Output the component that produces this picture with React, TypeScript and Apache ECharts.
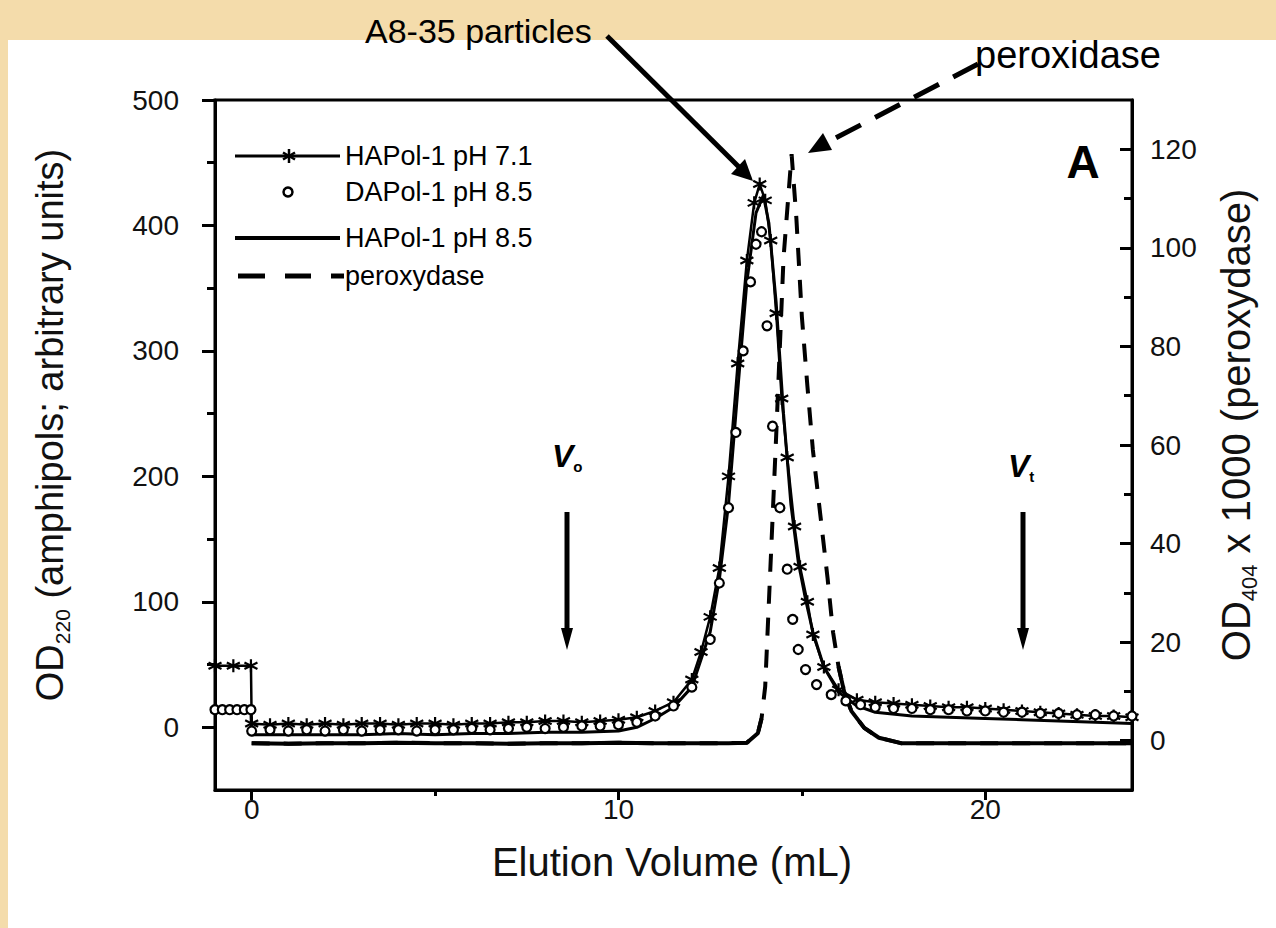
import React, { useEffect, useRef } from "react";
import * as echarts from "echarts";

// ---- data (x = elution volume, mL) ----
const hapol71X = [-1, -0.5, -0.02, 0, 0.5, 1, 1.5, 2, 2.5, 3, 3.5, 4, 4.5, 5, 5.5, 6, 6.5, 7, 7.5, 8, 8.5, 9, 9.5, 10, 10.5, 11, 11.5, 12, 12.25, 12.5, 12.75, 13, 13.25, 13.5, 13.7, 13.85, 14, 14.15, 14.3, 14.45, 14.6, 14.8, 14.95, 15.15, 15.3, 15.6, 16, 16.5, 17, 17.5, 18, 18.5, 19, 19.5, 20, 20.5, 21, 21.5, 22, 22.5, 23, 23.5, 24];
const hapol71Y = [49, 49, 49, 3, 2, 3, 2, 3, 2, 3, 3, 2, 3, 3, 2, 3, 3, 4, 4, 5, 5, 4, 5, 6, 8, 13, 20, 38, 60, 88, 127, 200, 290, 372, 418, 433, 420, 388, 330, 262, 215, 160, 128, 100, 74, 48, 30, 22, 20, 19, 18, 17, 16, 16, 15, 14, 13, 12, 11, 10, 9, 9, 8];

const dapolX = [-1, -0.8, -0.6, -0.4, -0.2, -0.02, 0, 0.5, 1, 1.5, 2, 2.5, 3, 3.5, 4, 4.5, 5, 5.5, 6, 6.5, 7, 7.5, 8, 8.5, 9, 9.5, 10, 10.5, 11, 11.5, 12, 12.5, 12.75, 13, 13.2, 13.4, 13.6, 13.75, 13.9, 14.05, 14.2, 14.4, 14.6, 14.75, 14.9, 15.1, 15.4, 15.8, 16.2, 16.6, 17, 17.5, 18, 18.5, 19, 19.5, 20, 20.5, 21, 21.5, 22, 22.5, 23, 23.5, 24];
const dapolY = [14, 14, 14, 14, 14, 14, -3, -2, -3, -2, -3, -2, -3, -2, -2, -3, -2, -2, -1, -2, -1, 0, -1, 0, 1, 1, 2, 4, 9, 17, 32, 70, 115, 175, 235, 300, 355, 385, 395, 320, 240, 175, 126, 86, 62, 46, 34, 26, 21, 18, 16, 15, 15, 14, 14, 13, 13, 12, 12, 11, 11, 10, 10, 9, 9];

const hapol85X = [-1, -0.02, 0, 1, 2, 3, 4, 5, 6, 7, 8, 9, 10, 10.5, 11, 11.5, 12, 12.5, 12.75, 13, 13.25, 13.5, 13.75, 13.95, 14.1, 14.3, 14.5, 14.7, 14.9, 15.1, 15.3, 15.6, 16, 16.5, 17, 18, 19, 20, 21, 22, 23, 24];
const hapol85Y = [12, 12, -6, -6, -6, -6, -5, -6, -5, -5, -4, -4, -3, 0, 7, 16, 32, 76, 118, 178, 268, 355, 410, 424, 402, 338, 250, 178, 132, 102, 76, 48, 28, 17, 12, 9, 8, 7, 6, 5, 4, 3];

const peroxX = [0, 1, 2, 3, 4, 5, 6, 7, 8, 9, 10, 11, 12, 13, 13.5, 13.8, 13.9, 14.0, 14.1, 14.3, 14.5, 14.72, 14.85, 15.0, 15.15, 15.3, 15.5, 15.7, 15.85, 16.0, 16.15, 16.35, 16.7, 17.1, 17.7, 18, 19, 20, 21, 22, 23, 24];
const peroxY = [-0.5, -0.6, -0.5, -0.5, -0.4, -0.5, -0.5, -0.6, -0.5, -0.5, -0.4, -0.5, -0.5, -0.5, -0.4, 1.5, 4.5, 11, 28, 62, 98, 119, 106, 86, 72, 59, 46, 33, 22, 15, 10, 6, 2.6, 0.6, -0.5, -0.5, -0.5, -0.5, -0.5, -0.5, -0.5, -0.5];

const xTickLabels = [0, 10, 20];
const xMinorTicks = [5, 15];
const leftTickLabels = [0, 100, 200, 300, 400, 500];
const leftMinorTicks = [50, 150, 250, 350, 450];
const rightTickLabels = [0, 20, 40, 60, 80, 100, 120];
const rightMinorTicks = [10, 30, 50, 70, 90, 110];

const legendNames = ["HAPol-1 pH 7.1", "DAPol-1 pH 8.5", "HAPol-1 pH 8.5", "peroxydase"];

const FONT = "'Liberation Sans', Arial, Helvetica, sans-serif";
const STAR = "path://M0,-10L0,10M-8.66,-5L8.66,5M-8.66,5L8.66,-5";

const zip = (xs: number[], ys: number[]) => xs.map((x, i) => [x, ys[i]]);

function buildOption() {
  const perSolid = peroxX.map((x, i) => (x <= 13.9 || x >= 16.0 ? [x, peroxY[i]] : [x, null]));
  const axisLine = { show: true, onZero: false, lineStyle: { color: "#000", width: 3 } };
  const tickLabel = { fontSize: 28, color: "#111", fontFamily: FONT };
  const TAN = "#f4dcab";

  const legendRows = [156, 192, 238, 276];
  const graphic: any[] = [
    { type: "rect", shape: { x: 0, y: 0, width: 1276, height: 40 }, style: { fill: TAN }, silent: true },
    { type: "rect", shape: { x: 0, y: 0, width: 8, height: 928 }, style: { fill: TAN }, silent: true },
    // legend
    { type: "line", shape: { x1: 235, y1: legendRows[0], x2: 340, y2: legendRows[0] }, style: { stroke: "#000", lineWidth: 3 } },
    { type: "line", shape: { x1: 289, y1: legendRows[0] - 7, x2: 289, y2: legendRows[0] + 7 }, style: { stroke: "#000", lineWidth: 2.5 } },
    { type: "line", shape: { x1: 283, y1: legendRows[0] - 3.5, x2: 295, y2: legendRows[0] + 3.5 }, style: { stroke: "#000", lineWidth: 2.5 } },
    { type: "line", shape: { x1: 283, y1: legendRows[0] + 3.5, x2: 295, y2: legendRows[0] - 3.5 }, style: { stroke: "#000", lineWidth: 2.5 } },
    { type: "circle", shape: { cx: 288, cy: legendRows[1], r: 4.5 }, style: { fill: "#fff", stroke: "#000", lineWidth: 2.5 } },
    { type: "line", shape: { x1: 235, y1: legendRows[2], x2: 340, y2: legendRows[2] }, style: { stroke: "#000", lineWidth: 4 } },
    { type: "line", shape: { x1: 238, y1: legendRows[3], x2: 265, y2: legendRows[3] }, style: { stroke: "#000", lineWidth: 5 } },
    { type: "line", shape: { x1: 285, y1: legendRows[3], x2: 311, y2: legendRows[3] }, style: { stroke: "#000", lineWidth: 5 } },
    { type: "line", shape: { x1: 331, y1: legendRows[3], x2: 344, y2: legendRows[3] }, style: { stroke: "#000", lineWidth: 5 } },
    ...legendNames.map((t, i) => ({
      type: "text",
      x: 345,
      y: legendRows[i],
      style: { text: t, fontSize: 27, fontFamily: FONT, fill: "#000", align: "left", verticalAlign: "middle" },
    })),
    // panel letter
    { type: "text", x: 1083, y: 162, style: { text: "A", fontSize: 46, fontWeight: "bold", fontFamily: FONT, fill: "#000", align: "center", verticalAlign: "middle" } },
    // axis titles
    {
      type: "text", x: 50, y: 425, rotation: Math.PI / 2,
      style: {
        text: "OD{sub|220} (amphipols; arbitrary units)", fontSize: 38, lineHeight: 46, fontFamily: FONT, fill: "#111",
        align: "center", verticalAlign: "middle",
        rich: { sub: { fontSize: 21, lineHeight: 22, verticalAlign: "bottom", fontFamily: FONT, fill: "#111" } },
      },
    },
    {
      type: "text", x: 1236, y: 425, rotation: Math.PI / 2,
      style: {
        text: "OD{sub|404} x 1000 (peroxydase)", fontSize: 40, lineHeight: 48, fontFamily: FONT, fill: "#111",
        align: "center", verticalAlign: "middle",
        rich: { sub: { fontSize: 22, lineHeight: 22, verticalAlign: "bottom", fontFamily: FONT, fill: "#111" } },
      },
    },
    { type: "text", x: 672, y: 862, style: { text: "Elution Volume (mL)", fontSize: 40, fontFamily: FONT, fill: "#111", align: "center", verticalAlign: "middle" } },
    // annotations
    { type: "text", x: 365, y: 31, style: { text: "A8-35 particles", fontSize: 34, fontFamily: FONT, fill: "#000", align: "left", verticalAlign: "middle" } },
    { type: "line", shape: { x1: 607, y1: 36, x2: 742, y2: 170 }, style: { stroke: "#000", lineWidth: 5 } },
    { type: "polygon", shape: { points: [[753, 181], [731, 174], [745, 159]] }, style: { fill: "#000" } },
    { type: "text", x: 975, y: 55, style: { text: "peroxidase", fontSize: 38, fontFamily: FONT, fill: "#000", align: "left", verticalAlign: "middle" } },
    { type: "line", shape: { x1: 978, y1: 64, x2: 826, y2: 143 }, style: { stroke: "#000", lineWidth: 5, lineDash: [28, 16] } },
    { type: "polygon", shape: { points: [[808, 153], [832, 150], [823, 133]] }, style: { fill: "#000" } },
    // V0 / Vt markers
    {
      type: "text", x: 552, y: 456,
      style: { text: "{v|V}{s|o}", fontFamily: FONT, fill: "#000", align: "left", verticalAlign: "middle",
        rich: { v: { fontSize: 32, fontStyle: "italic", fontWeight: "bold", lineHeight: 36, fontFamily: FONT }, s: { fontSize: 15, fontWeight: "bold", lineHeight: 16, verticalAlign: "bottom", fontFamily: FONT } } },
    },
    { type: "line", shape: { x1: 567, y1: 512, x2: 567, y2: 636 }, style: { stroke: "#000", lineWidth: 5 } },
    { type: "polygon", shape: { points: [[561, 628], [573, 628], [567, 650]] }, style: { fill: "#000" } },
    {
      type: "text", x: 1008, y: 466,
      style: { text: "{v|V}{s|t}", fontFamily: FONT, fill: "#000", align: "left", verticalAlign: "middle",
        rich: { v: { fontSize: 32, fontStyle: "italic", fontWeight: "bold", lineHeight: 36, fontFamily: FONT }, s: { fontSize: 15, fontWeight: "bold", lineHeight: 16, verticalAlign: "bottom", fontFamily: FONT } } },
    },
    { type: "line", shape: { x1: 1023, y1: 512, x2: 1023, y2: 636 }, style: { stroke: "#000", lineWidth: 5 } },
    { type: "polygon", shape: { points: [[1017, 628], [1029, 628], [1023, 650]] }, style: { fill: "#000" } },
  ];

  return {
    animation: false,
    backgroundColor: "#fff",
    grid: { left: 215, right: 144, top: 100, bottom: 138, show: true, borderColor: "#000", borderWidth: 3, backgroundColor: "transparent", containLabel: false, outerBoundsMode: "none" },
    xAxis: [
      {
        type: "value", min: -1, max: 24, position: "bottom",
        axisLine,
        axisTick: { show: true, customValues: xTickLabels, length: 10, lineStyle: { color: "#000", width: 3 } },
        axisLabel: { ...tickLabel, customValues: xTickLabels, margin: 5 },
        splitLine: { show: false },
      },
      {
        type: "value", min: -1, max: 24, position: "bottom",
        axisLine: { show: false, onZero: false },
        axisTick: { show: true, customValues: xMinorTicks, length: 6, lineStyle: { color: "#000", width: 3 } },
        axisLabel: { show: false },
        splitLine: { show: false },
      },
    ],
    yAxis: [
      {
        type: "value", min: -50, max: 500, position: "left",
        axisLine,
        axisTick: { show: true, customValues: leftTickLabels, length: 13, lineStyle: { color: "#000", width: 3 } },
        axisLabel: { ...tickLabel, customValues: leftTickLabels, margin: 36 },
        splitLine: { show: false },
      },
      {
        type: "value", min: -10, max: 130, position: "right",
        axisLine,
        axisTick: { show: true, inside: true, customValues: rightTickLabels, length: 12, lineStyle: { color: "#000", width: 3 } },
        axisLabel: { ...tickLabel, customValues: rightTickLabels, margin: 18 },
        splitLine: { show: false },
      },
      {
        type: "value", min: -50, max: 500, position: "left",
        axisLine: { show: false, onZero: false },
        axisTick: { show: true, customValues: leftMinorTicks, length: 8, lineStyle: { color: "#000", width: 3 } },
        axisLabel: { show: false },
        splitLine: { show: false },
      },
      {
        type: "value", min: -10, max: 130, position: "right",
        axisLine: { show: false, onZero: false },
        axisTick: { show: true, inside: true, customValues: rightMinorTicks, length: 8, lineStyle: { color: "#000", width: 3 } },
        axisLabel: { show: false },
        splitLine: { show: false },
      },
    ],
    series: [
      {
        name: "peroxydase (baseline)", type: "line", xAxisIndex: 0, yAxisIndex: 1, data: perSolid,
        symbol: "none", connectNulls: false, lineStyle: { color: "#000", width: 4 }, z: 2,
      },
      {
        name: "peroxydase", type: "line", xAxisIndex: 0, yAxisIndex: 1, data: zip(peroxX, peroxY),
        symbol: "none", lineStyle: { color: "#000", width: 4, type: [18, 14] }, z: 2,
      },
      {
        name: "HAPol-1 pH 8.5", type: "line", xAxisIndex: 0, yAxisIndex: 0, data: zip(hapol85X, hapol85Y),
        symbol: "none", lineStyle: { color: "#000", width: 3 }, z: 3,
      },
      {
        name: "HAPol-1 pH 7.1", type: "line", xAxisIndex: 0, yAxisIndex: 0, data: zip(hapol71X, hapol71Y),
        symbol: STAR, symbolSize: 13, showSymbol: true, showAllSymbol: true,
        lineStyle: { color: "#000", width: 2.5 },
        itemStyle: { color: "#000", borderColor: "#000", borderWidth: 2.2 }, z: 4,
      },
      {
        name: "DAPol-1 pH 8.5", type: "scatter", xAxisIndex: 0, yAxisIndex: 0, data: zip(dapolX, dapolY),
        symbol: "circle", symbolSize: 9,
        itemStyle: { color: "#fff", borderColor: "#000", borderWidth: 2.2, opacity: 1 }, z: 5,
      },
    ],
    graphic,
  };
}

export default function App() {
  const ref = useRef<HTMLDivElement>(null);
  useEffect(() => {
    if (!ref.current) return;
    const chart = echarts.init(ref.current, null, { renderer: "svg" });
    chart.setOption(buildOption() as any);
    return () => chart.dispose();
  }, []);
  return <div ref={ref} style={{ position: "absolute", left: 0, top: 0, width: 1276, height: 928 }} />;
}
